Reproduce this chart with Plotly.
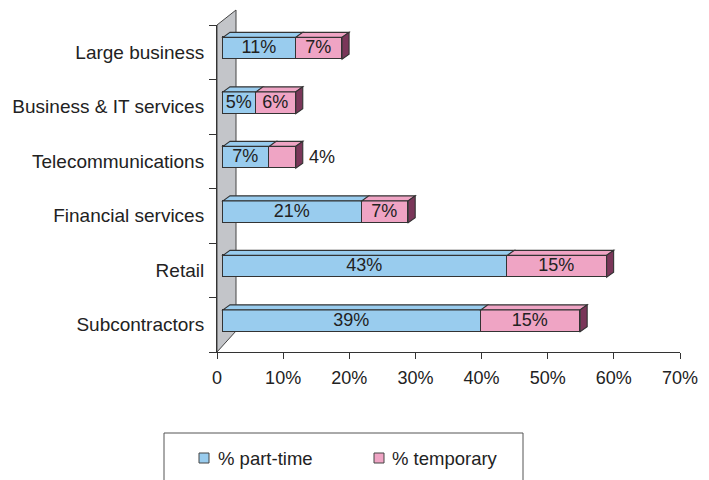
import plotly.graph_objects as go

# ---- data ----
categories = ["Subcontractors", "Retail", "Financial services",
              "Telecommunications", "Business & IT services", "Large business"]
part_time = [39, 43, 21, 7, 5, 11]
temporary = [15, 15, 7, 4, 6, 7]
series_names = ["% part-time", "% temporary"]
x_tickvals = [0, 10, 20, 30, 40, 50, 60, 70]
x_ticktext = ["0", "10%", "20%", "30%", "40%", "50%", "60%", "70%"]

# ---- styling / layout constants ----
W, H = 709, 480
L, R, T, B = 217, 29, 25, 128
PW, PH = W - L - R, H - T - B
XMAX = 70
px_per_x = PW / XMAX
n = len(categories)
px_per_y = PH / n

BLUE = "#99ccee"
PINK = "#efa4c4"
SIDE = "#7a3659"
EDGE = "#333333"
TXT = "#222222"
FONT = "Liberation Sans, Arial, sans-serif"

bar_w = 0.40
front_dx_px, front_dy_px = 6, 4      # bar front face offset from front plane
depth_dx_px, depth_dy_px = 7, 5      # bar depth
wall_dx_px = 19

x2_shift = front_dx_px / px_per_x
y2_shift = front_dy_px / px_per_y
ddx = depth_dx_px / px_per_x
ddy = depth_dy_px / px_per_y

def pxx(p):
    return (p - L) / PW

def pxy(p):
    return (T + PH - p) / PH

ypos = list(range(n))
label_pt = [f"{v}%" for v in part_time]
label_tmp = [f"{v}%" if v * px_per_x > 30 else "" for v in temporary]

fig = go.Figure()

# invisible trace to set up the category axis
fig.add_trace(go.Scatter(x=[0] * n, y=categories, mode="markers",
                         marker=dict(opacity=0), hoverinfo="skip",
                         showlegend=False, xaxis="x", yaxis="y"))

fig.add_trace(go.Bar(y=ypos, x=part_time, orientation="h", width=bar_w,
                     name=series_names[0], marker=dict(color=BLUE, line=dict(color=EDGE, width=1.3)),
                     text=label_pt, textposition="inside", insidetextanchor="middle",
                     textfont=dict(family=FONT, size=18, color=TXT),
                     constraintext="none", xaxis="x2", yaxis="y2", showlegend=False))
fig.add_trace(go.Bar(y=ypos, x=temporary, orientation="h", width=bar_w,
                     name=series_names[1], marker=dict(color=PINK, line=dict(color=EDGE, width=1.3)),
                     text=label_tmp, textposition="inside", insidetextanchor="middle",
                     textfont=dict(family=FONT, size=18, color=TXT),
                     constraintext="none", xaxis="x2", yaxis="y2", showlegend=False))

shapes = []
# grey side wall
wall = (f"M {pxx(L)},{pxy(T + PH)} L {pxx(L)},{pxy(T)} "
        f"L {pxx(L + wall_dx_px)},{pxy(T - 15)} L {pxx(L + wall_dx_px)},{pxy(T + PH - 21)} Z")
shapes.append(dict(type="path", path=wall, xref="paper", yref="paper",
                   fillcolor="#c3c5c9", line=dict(color="#444444", width=1), layer="below"))

# 3D top and side faces
for i in range(n):
    yt = ypos[i] + bar_w / 2
    yb = ypos[i] - bar_w / 2
    segs = [(0, part_time[i], BLUE), (part_time[i], part_time[i] + temporary[i], PINK)]
    for x0, x1, col in segs:
        p = (f"M {x0},{yt} L {x1},{yt} L {x1 + ddx},{yt + ddy} L {x0 + ddx},{yt + ddy} Z")
        shapes.append(dict(type="path", path=p, xref="x2", yref="y2",
                           fillcolor=col, line=dict(color=EDGE, width=1.1)))
    xt = part_time[i] + temporary[i]
    p = (f"M {xt},{yb} L {xt},{yt} L {xt + ddx},{yt + ddy} L {xt + ddx},{yb + ddy} Z")
    shapes.append(dict(type="path", path=p, xref="x2", yref="y2",
                       fillcolor=SIDE, line=dict(color=EDGE, width=1.1)))

# legend box and swatches
shapes.append(dict(type="rect", xref="paper", yref="paper",
                   x0=pxx(164), x1=pxx(523), y0=pxy(433), y1=pxy(495),
                   line=dict(color="#555555", width=1), fillcolor="rgba(0,0,0,0)"))
legend_items = [(199, BLUE, 216), (374, PINK, 390)]
for (sx, col, tx), name in zip(legend_items, series_names):
    shapes.append(dict(type="rect", xref="paper", yref="paper",
                       x0=pxx(sx), x1=pxx(sx + 10), y0=pxy(463), y1=pxy(453),
                       fillcolor=col, line=dict(color="#444444", width=1)))

annotations = []
for (sx, col, tx), name in zip(legend_items, series_names):
    annotations.append(dict(text=name, xref="paper", yref="paper", x=pxx(tx), y=pxy(458),
                            xanchor="left", yanchor="middle", showarrow=False,
                            font=dict(family=FONT, size=18.5, color=TXT)))
# outside labels for segments too small to hold text
for i in range(n):
    if label_tmp[i] == "":
        annotations.append(dict(text=f"{temporary[i]}%", xref="x2", yref="y2",
                                x=part_time[i] + temporary[i], y=ypos[i],
                                xanchor="left", yanchor="middle", xshift=11, showarrow=False,
                                font=dict(family=FONT, size=18, color=TXT)))

fig.update_layout(
    width=W, height=H,
    margin=dict(l=L, r=R, t=T, b=B, pad=0),
    paper_bgcolor="white", plot_bgcolor="rgba(0,0,0,0)",
    barmode="stack", bargap=0,
    shapes=shapes, annotations=annotations,
    showlegend=False,
    xaxis=dict(range=[0, XMAX], tickvals=x_tickvals, ticktext=x_ticktext,
               showgrid=False, zeroline=False, showline=True, linecolor=EDGE, linewidth=1,
               ticks="outside", ticklen=6, tickcolor=EDGE, tickwidth=1,
               tickfont=dict(family=FONT, size=18, color=TXT), ticklabelstandoff=3),
    yaxis=dict(type="category", categoryorder="array", categoryarray=categories,
               range=[-0.5, n - 0.5], tickson="boundaries",
               showgrid=False, zeroline=False, showline=True, linecolor=EDGE, linewidth=1,
               ticks="outside", ticklen=7, tickcolor=EDGE, tickwidth=1,
               tickfont=dict(family=FONT, size=19, color=TXT), ticklabelstandoff=8),
    xaxis2=dict(range=[-x2_shift, XMAX - x2_shift], overlaying="x", anchor="y2", visible=False),
    yaxis2=dict(range=[-0.5 - y2_shift, n - 0.5 - y2_shift], overlaying="y", anchor="x2", visible=False),
    hovermode=False,
)

fig.write_html("out.html", config={"displayModeBar": False},
               post_script="document.body.style.margin='0';document.body.style.overflow='hidden';")
